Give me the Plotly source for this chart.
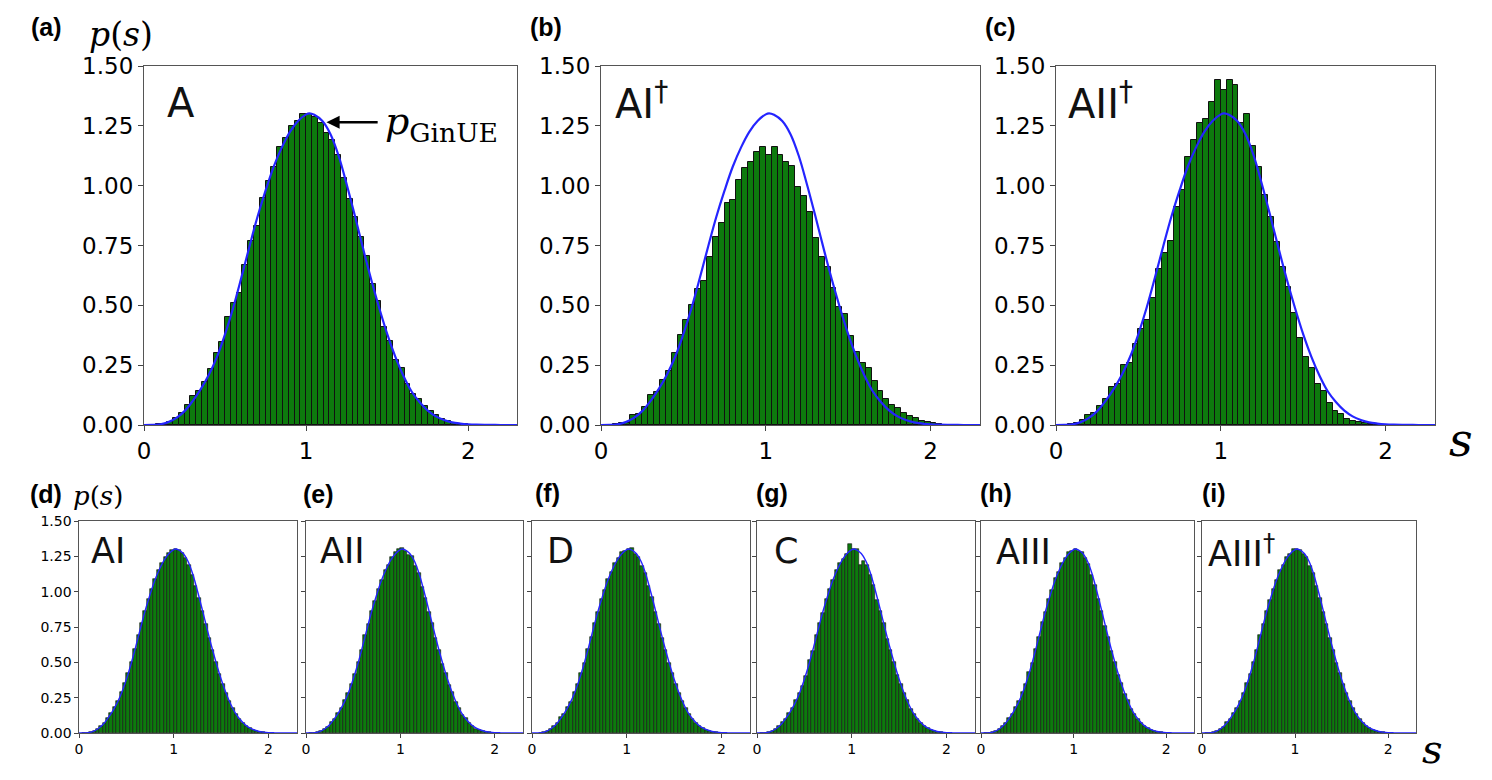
import numpy as np
import plotly.graph_objects as go

# ---------------- data ----------------
bin_width = 1 / 28

# GinUE reference curve p(s)
s_curve = [0.00, 0.05, 0.10, 0.15, 0.20, 0.25, 0.30, 0.35, 0.40, 0.45, 0.50, 0.55, 0.60,
           0.65, 0.70, 0.75, 0.80, 0.85, 0.90, 0.95, 1.00, 1.02, 1.05, 1.10, 1.15, 1.20,
           1.25, 1.30, 1.35, 1.40, 1.45, 1.50, 1.55, 1.60, 1.65, 1.70, 1.75, 1.80, 1.85,
           1.90, 1.95, 2.00, 2.05, 2.10, 2.20, 2.30]
p_curve = [0.0, 0.0005, 0.003, 0.012, 0.03, 0.058, 0.10, 0.15, 0.21, 0.285, 0.38, 0.49, 0.615,
           0.745, 0.87, 0.98, 1.08, 1.16, 1.225, 1.27, 1.298, 1.302, 1.296, 1.27, 1.215, 1.125,
           1.005, 0.875, 0.74, 0.61, 0.49, 0.38, 0.285, 0.205, 0.14, 0.095, 0.06, 0.036, 0.021,
           0.011, 0.006, 0.003, 0.0015, 0.0007, 0.0001, 0.0]

hist_A = [0, 0, 0.003, 0.006, 0.014, 0.03, 0.05, 0.085, 0.12, 0.14, 0.18, 0.235, 0.30, 0.345,
          0.45, 0.51, 0.55, 0.67, 0.77, 0.83, 0.95, 1.02, 1.08, 1.16, 1.20, 1.25, 1.27, 1.30,
          1.30, 1.285, 1.26, 1.22, 1.19, 1.13, 1.03, 0.945, 0.87, 0.785, 0.705, 0.59, 0.52,
          0.41, 0.35, 0.27, 0.24, 0.17, 0.13, 0.11, 0.08, 0.06, 0.04, 0.025, 0.016, 0.01,
          0.006, 0.004, 0.002, 0.001]
hist_AI_dag = [0, 0.002, 0.006, 0.01, 0.01, 0.042, 0.046, 0.077, 0.125, 0.138, 0.188, 0.227,
               0.30, 0.375, 0.44, 0.50, 0.567, 0.60, 0.70, 0.787, 0.845, 0.926, 0.94, 1.024,
               1.072, 1.10, 1.142, 1.16, 1.128, 1.16, 1.128, 1.10, 1.082, 0.996, 0.958, 0.89,
               0.78, 0.70, 0.66, 0.574, 0.494, 0.462, 0.372, 0.305, 0.258, 0.24, 0.185, 0.142,
               0.11, 0.082, 0.072, 0.049, 0.038, 0.028, 0.018, 0.012, 0.007, 0.004, 0.002, 0.001]
hist_AII_dag = [0, 0.002, 0.005, 0.01, 0.02, 0.04, 0.05, 0.08, 0.11, 0.16, 0.17, 0.25, 0.26,
                0.34, 0.40, 0.44, 0.53, 0.65, 0.72, 0.77, 0.91, 0.98, 1.12, 1.19, 1.26, 1.28,
                1.35, 1.44, 1.40, 1.44, 1.42, 1.26, 1.30, 1.167, 1.08, 0.96, 0.87, 0.763, 0.66,
                0.578, 0.467, 0.365, 0.286, 0.24, 0.17, 0.142, 0.09, 0.06, 0.045, 0.025, 0.018,
                0.012, 0.008, 0.005, 0.003, 0.002, 0.001]
hist_AI = [0, 0.001, 0.003, 0.008, 0.016, 0.03, 0.05, 0.072, 0.107, 0.14, 0.185, 0.228, 0.29,
           0.352, 0.425, 0.505, 0.592, 0.69, 0.78, 0.865, 0.945, 1.02, 1.09, 1.15, 1.20, 1.245,
           1.275, 1.295, 1.30, 1.295, 1.272, 1.238, 1.188, 1.12, 1.04, 0.955, 0.862, 0.77,
           0.672, 0.585, 0.50, 0.42, 0.345, 0.28, 0.225, 0.176, 0.133, 0.10, 0.07, 0.05, 0.034,
           0.022, 0.014, 0.008, 0.005, 0.002, 0.001]
hist_AII = [0, 0.001, 0.002, 0.007, 0.014, 0.03, 0.046, 0.076, 0.10, 0.142, 0.178, 0.23, 0.28,
            0.35, 0.418, 0.505, 0.585, 0.69, 0.77, 0.865, 0.935, 1.02, 1.08, 1.15, 1.19, 1.245,
            1.28, 1.30, 1.31, 1.29, 1.262, 1.25, 1.18, 1.13, 1.035, 0.958, 0.855, 0.775, 0.67,
            0.59, 0.49, 0.425, 0.342, 0.29, 0.22, 0.18, 0.13, 0.104, 0.068, 0.052, 0.031, 0.022,
            0.012, 0.009, 0.004, 0.002, 0.001]
hist_D = [0, 0, 0.002, 0.006, 0.016, 0.027, 0.05, 0.073, 0.11, 0.135, 0.185, 0.22, 0.29, 0.345,
          0.425, 0.495, 0.595, 0.68, 0.78, 0.855, 0.945, 1.01, 1.09, 1.14, 1.205, 1.235, 1.28,
          1.29, 1.30, 1.31, 1.27, 1.245, 1.185, 1.13, 1.04, 0.96, 0.855, 0.772, 0.67, 0.588,
          0.495, 0.422, 0.345, 0.286, 0.224, 0.178, 0.132, 0.102, 0.07, 0.051, 0.032, 0.021,
          0.014, 0.007, 0.004, 0.002, 0.001]
hist_C = [0, 0.001, 0.003, 0.008, 0.014, 0.03, 0.047, 0.076, 0.10, 0.142, 0.175, 0.23, 0.28,
          0.33, 0.40, 0.52, 0.58, 0.69, 0.78, 0.85, 0.95, 1.02, 1.08, 1.15, 1.20, 1.23, 1.27,
          1.335, 1.305, 1.305, 1.19, 1.215, 1.19, 1.12, 1.05, 0.94, 0.86, 0.78, 0.665, 0.59,
          0.505, 0.41, 0.35, 0.28, 0.23, 0.172, 0.137, 0.098, 0.073, 0.048, 0.034, 0.02, 0.014,
          0.007, 0.004, 0.002, 0.001]
hist_AIII = [0, 0.001, 0.002, 0.007, 0.016, 0.028, 0.05, 0.072, 0.105, 0.138, 0.183, 0.223,
             0.288, 0.345, 0.43, 0.495, 0.592, 0.68, 0.785, 0.855, 0.945, 1.01, 1.095, 1.14,
             1.20, 1.235, 1.28, 1.29, 1.305, 1.29, 1.28, 1.235, 1.195, 1.12, 1.05, 0.948, 0.866,
             0.76, 0.68, 0.578, 0.502, 0.412, 0.352, 0.278, 0.23, 0.172, 0.138, 0.098, 0.073,
             0.048, 0.034, 0.02, 0.014, 0.007, 0.005, 0.002, 0.001]
hist_AIII_dag = [0, 0.001, 0.003, 0.006, 0.015, 0.03, 0.046, 0.076, 0.102, 0.142, 0.176, 0.228,
                 0.282, 0.352, 0.415, 0.505, 0.588, 0.69, 0.772, 0.862, 0.94, 1.02, 1.082, 1.15,
                 1.19, 1.245, 1.265, 1.30, 1.305, 1.295, 1.27, 1.245, 1.185, 1.13, 1.04, 0.958,
                 0.855, 0.772, 0.67, 0.588, 0.495, 0.422, 0.345, 0.286, 0.224, 0.178, 0.132,
                 0.102, 0.07, 0.051, 0.032, 0.021, 0.014, 0.007, 0.004, 0.002, 0.001]

class_names = ["A", "AI<sup>†</sup>", "AII<sup>†</sup>", "AI", "AII", "D", "C", "AIII",
               "AIII<sup>†</sup>"]
panel_letters = ["(a)", "(b)", "(c)", "(d)", "(e)", "(f)", "(g)", "(h)", "(i)"]
hists = [hist_A, hist_AI_dag, hist_AII_dag, hist_AI, hist_AII, hist_D, hist_C, hist_AIII,
         hist_AIII_dag]
y_ticks = [0, 0.25, 0.5, 0.75, 1.0, 1.25, 1.5]
x_ticks = [0, 1, 2]

# ---------------- layout geometry (pixels) ----------------
W, H = 1492, 780
# (left, right, top, bottom) of plot areas
boxes = [(144, 517, 66, 425), (601, 980, 66, 425), (1056, 1435, 66, 425),
         (79, 297, 521, 733), (306, 523, 521, 733), (532, 750, 521, 733),
         (757, 975, 521, 733), (981, 1194, 521, 733), (1202, 1416, 521, 733)]
# class label left x, cap centre y, font size
class_pos = [(165, 103, 40), (613, 101, 40), (1066, 101, 40),
             (89, 551, 35), (318, 551, 35), (545, 551, 35), (772, 551, 35),
             (994, 552, 35), (1206, 551, 35)]
letter_pos = [(46, 27), (546, 27), (1000, 27), (46, 494), (318, 494), (547, 493),
              (772, 493), (996, 493), (1214, 493)]

GREEN = "#0d7a0d"
BLUE = "#2424ff"

fig = go.Figure()
layout = dict(width=W, height=H,
              margin=dict(l=0, r=0, t=0, b=0, pad=0, autoexpand=False),
              paper_bgcolor="white", plot_bgcolor="white", showlegend=False,
              bargap=0)
annotations = []

for i, (vals, box) in enumerate(zip(hists, boxes)):
    n = i + 1
    sfx = "" if n == 1 else str(n)
    small = i >= 3
    l, r, t, b = box
    centers = (np.arange(len(vals)) + 0.5) * bin_width
    yv = [v if v > 0 else None for v in vals]
    fig.add_trace(go.Bar(x=centers, y=yv, width=bin_width,
                         marker=dict(color=GREEN,
                                     line=dict(color="#111111", width=0.6 if small else 1.0)),
                         xaxis="x" + sfx, yaxis="y" + sfx, hoverinfo="skip"))
    fig.add_trace(go.Scatter(x=s_curve, y=p_curve, mode="lines",
                             line=dict(color=BLUE, width=1.4 if small else 2.2, shape="spline"),
                             xaxis="x" + sfx, yaxis="y" + sfx, hoverinfo="skip",
                             cliponaxis=False))
    tick_font = dict(family="DejaVu Sans", size=14 if small else 23, color="black")
    layout["xaxis" + sfx] = dict(
        domain=[l / W, r / W], range=[0, 2.3], anchor="y" + sfx,
        tickvals=x_ticks, ticktext=[str(v) for v in x_ticks], ticks="outside",
        ticklen=3.5 if small else 5, tickwidth=1, tickcolor="#444",
        showline=True, mirror=True, linecolor="#555", linewidth=1.2,
        showgrid=False, zeroline=False, tickfont=tick_font, fixedrange=True,
        automargin=False)
    layout["yaxis" + sfx] = dict(
        domain=[1 - b / H, 1 - t / H], range=[0, 1.5], anchor="x" + sfx,
        tickvals=y_ticks, ticktext=[f"{v:.2f}" for v in y_ticks], ticks="outside",
        ticklen=3.5 if small else 5, tickwidth=1, tickcolor="#444",
        showticklabels=(i <= 3), showline=True, mirror=True, linecolor="#555",
        linewidth=1.2, showgrid=False, zeroline=False, tickfont=tick_font,
        fixedrange=True, automargin=False)
    cx, cy, fs = class_pos[i]
    annotations.append(dict(text=class_names[i], x=cx / W, y=1 - cy / H, xref="paper",
                            yref="paper", xanchor="left", yanchor="middle",
                            showarrow=False,
                            font=dict(family="DejaVu Sans", size=fs, color="#111")))
    lx, ly = letter_pos[i]
    annotations.append(dict(text="<b>" + panel_letters[i] + "</b>", x=lx / W, y=1 - ly / H,
                            xref="paper", yref="paper", xanchor="center", yanchor="middle",
                            showarrow=False,
                            font=dict(family="Liberation Sans", size=25, color="black")))

serif = "DejaVu Serif"
# axis labels p(s) and s
annotations += [
    dict(text="<i>p</i>(<i>s</i>)", x=121 / W, y=1 - 35 / H, xref="paper", yref="paper",
         xanchor="center", yanchor="middle", showarrow=False,
         font=dict(family=serif, size=33, color="black")),
    dict(text="<i>p</i>(<i>s</i>)", x=98 / W, y=1 - 496 / H, xref="paper", yref="paper",
         xanchor="center", yanchor="middle", showarrow=False,
         font=dict(family=serif, size=26, color="black")),
    dict(text="<i>s</i>", x=1461 / W, y=1 - 440 / H, xref="paper", yref="paper",
         xanchor="center", yanchor="middle", showarrow=False,
         font=dict(family=serif, size=46, color="black")),
    dict(text="<i>s</i>", x=1432 / W, y=1 - 749 / H, xref="paper", yref="paper",
         xanchor="center", yanchor="middle", showarrow=False,
         font=dict(family=serif, size=40, color="black")),
    # p_GinUE label and arrow
    dict(text="<i>p</i><sub>GinUE</sub>", x=383 / W, y=1 - 124 / H, xref="paper",
         yref="paper", xanchor="left", yanchor="middle", showarrow=False,
         font=dict(family=serif, size=38, color="black")),
    dict(text="", x=1.125, y=1.265, xref="x", yref="y", ax=1.45, ay=1.265, axref="x",
         ayref="y", showarrow=True, arrowhead=2, arrowsize=1.1, arrowwidth=2.4,
         arrowcolor="black"),
]
layout["annotations"] = annotations
fig.update_layout(**layout)
fig.write_html("out.html")
